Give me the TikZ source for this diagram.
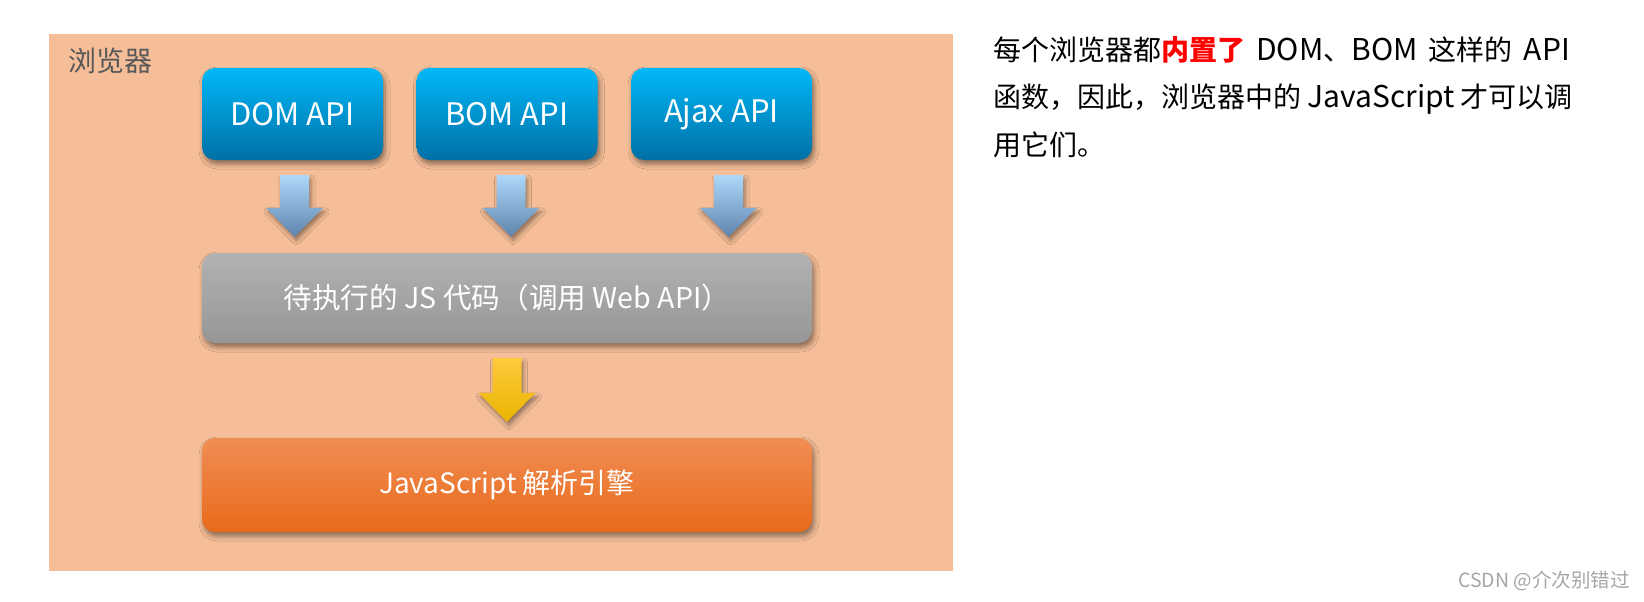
\documentclass[tikz,border=0pt]{standalone}
\usepackage{fontspec}
\setmainfont{Noto Sans CJK SC}
\usetikzlibrary{calc,shadows.blur}

\definecolor{peach}{RGB}{245,190,152}
\definecolor{apitop}{RGB}{0,184,248}
\definecolor{apibot}{RGB}{0,112,166}
\definecolor{codetop}{RGB}{178,178,178}
\definecolor{codebot}{RGB}{150,150,150}
\definecolor{enginetop}{RGB}{241,141,84}
\definecolor{enginebot}{RGB}{232,106,26}
\definecolor{arrowtop}{RGB}{172,216,250}
\definecolor{arrowbot}{RGB}{96,132,172}
\definecolor{goldtop}{RGB}{255,202,60}
\definecolor{goldbot}{RGB}{234,180,0}
\definecolor{labelgray}{RGB}{89,89,89}

% latin words in the note are set a little larger
\newcommand\lat[1]{{\fontsize{30}{34}\selectfont#1}}
\newcommand\gap{\hspace{11pt}}

% fat block arrow from below #3 down to just above #4, shifted by #1
\newcommand\fatarrow[4][0]{%
  \shade[#2] ($(#3.south)+(#1-14.5,-15)$) -- ($(#3.south)+(#1+14.5,-15)$)
    -- ($(#3.south |- #4.north)+(#1+14.5,45)$) -- ($(#3.south |- #4.north)+(#1+28.5,45)$)
    -- ($(#3.south |- #4.north)+(#1,16)$)
    -- ($(#3.south |- #4.north)+(#1-28.5,45)$) -- ($(#3.south |- #4.north)+(#1-14.5,45)$)
    -- cycle;}

\begin{document}
\begin{tikzpicture}[x=1pt,y=1pt,
  box/.style={rounded corners=13pt,inner sep=0pt,text=white,
    font=\fontsize{28}{34}\selectfont,
    blur shadow={shadow xshift=2pt,shadow yshift=-4pt,shadow blur radius=5pt,shadow opacity=45}},
  apibox/.style={box,minimum width=181pt,minimum height=92pt,top color=apitop,bottom color=apibot,
    font=\fontsize{31}{36}\selectfont},
  codebox/.style={box,minimum width=610pt,minimum height=90pt,top color=codetop,bottom color=codebot,
    font=\fontsize{28.6}{34}\selectfont},
  enginebox/.style={box,minimum width=610pt,minimum height=94pt,top color=enginetop,bottom color=enginebot},
  bluearrow/.style={top color=arrowtop,bottom color=arrowbot,
    blur shadow={shadow xshift=2pt,shadow yshift=-4pt,shadow blur radius=4pt,shadow opacity=40}},
  goldarrow/.style={top color=goldtop,bottom color=goldbot,
    blur shadow={shadow xshift=2pt,shadow yshift=-4pt,shadow blur radius=4pt,shadow opacity=40}},
  note/.style={anchor=base west,inner sep=0pt,font=\fontsize{28}{34}\selectfont}]
  \fill[white] (0,0) rectangle (1644,-602);
  \useasboundingbox (0,0) rectangle (1644,-602);

  % browser area
  \fill[peach] (49,-34) rectangle (953,-571);
  \node[anchor=base west,inner sep=0pt,text=labelgray,font=\fontsize{28}{34}\selectfont]
    (browser) at (68,-72) {浏览器};

  \node[apibox] (dom) at (292.5,-114) {DOM API};
  \node[apibox] (bom) at (507,-114) {BOM API};
  \node[apibox] (ajax) at (721.5,-114) {Ajax API};
  \node[codebox] (code) at (507,-298) {待执行的 JS 代码（调用 Web API）};
  \node[enginebox] (engine) at (507,-485) {JavaScript 解析引擎};

  \fatarrow[2]{bluearrow}{dom}{code}
  \fatarrow[4]{bluearrow}{bom}{code}
  \fatarrow[7]{bluearrow}{ajax}{code}
  \fatarrow{goldarrow}{code}{engine}

  % text on the right
  \node[note] (line1) at (993,-60)
    {每个浏览器都\textcolor{red}{\textbf{内置了}}\gap\lat{DOM}、\lat{BOM}\gap 这样的\gap\lat{API}};
  \node[note] (line2) at (993,-107.5) {函数，因此，浏览器中的 \lat{JavaScript} 才可以调};
  \node[note] (line3) at (993,-155) {用它们。};

  \node[anchor=base east,inner sep=0pt,text=black!35,font=\fontsize{19.5}{22}\selectfont]
    (mark) at (1630,-587) {CSDN @介次别错过};
\end{tikzpicture}
\end{document}
